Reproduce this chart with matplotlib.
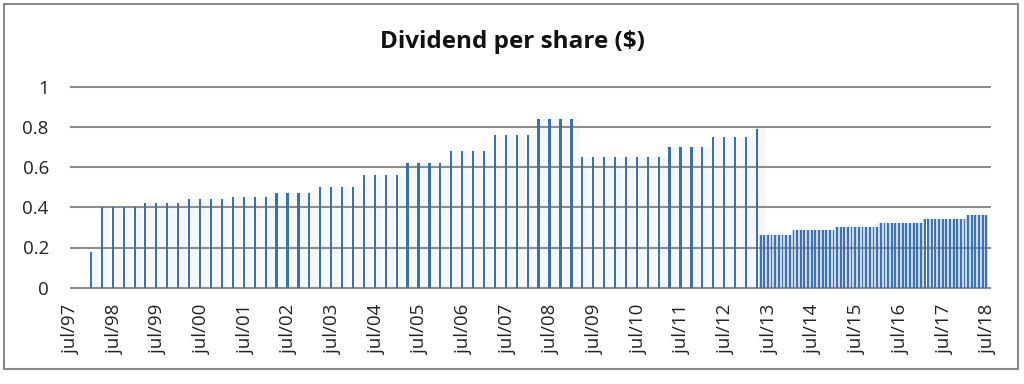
import matplotlib
matplotlib.use("Agg")
from matplotlib import pyplot as plt
import matplotlib.dates as mdates
from matplotlib.patches import Rectangle
import pandas as pd

plt.rcParams['font.family'] = ['Open Sans', 'DejaVu Sans']

# quarterly dividends, Dec 1997 - Mar 2013
q_start = '1997-12-15'
q_values = [0.18,
            0.40, 0.40, 0.40, 0.40,
            0.42, 0.42, 0.42, 0.42,
            0.44, 0.44, 0.44, 0.44,
            0.45, 0.45, 0.45, 0.45,
            0.47, 0.47, 0.47, 0.47,
            0.50, 0.50, 0.50, 0.50,
            0.56, 0.56, 0.56, 0.56,
            0.62, 0.62, 0.62, 0.62,
            0.68, 0.68, 0.68, 0.68,
            0.76, 0.76, 0.76, 0.76,
            0.84, 0.84, 0.84, 0.84,
            0.65, 0.65, 0.65, 0.65, 0.65, 0.65, 0.65, 0.65,
            0.70, 0.70, 0.70, 0.70,
            0.75, 0.75, 0.75, 0.75,
            0.79]

# monthly dividends, Apr 2013 - Jun 2018
m_start = '2013-04-15'
m_values = [0.26, 0.26, 0.26, 0.26, 0.26, 0.26, 0.26, 0.26, 0.26,
            0.285, 0.285, 0.285, 0.285, 0.285, 0.285, 0.285, 0.285, 0.285, 0.285, 0.285, 0.285,
            0.30, 0.30, 0.30, 0.30, 0.30, 0.30, 0.30, 0.30, 0.30, 0.30, 0.30, 0.30,
            0.32, 0.32, 0.32, 0.32, 0.32, 0.32, 0.32, 0.32, 0.32, 0.32, 0.32, 0.32,
            0.34, 0.34, 0.34, 0.34, 0.34, 0.34, 0.34, 0.34, 0.34, 0.34, 0.34, 0.34,
            0.36, 0.36, 0.36, 0.36, 0.36, 0.36]

yticks = [0, 0.2, 0.4, 0.6, 0.8, 1]

q_dates = pd.date_range(q_start, periods=len(q_values), freq=pd.DateOffset(months=3))
m_dates = pd.date_range(m_start, periods=len(m_values), freq=pd.DateOffset(months=1))

fig = plt.figure(figsize=(10.24, 3.84), dpi=100)
ax = fig.add_axes([71 / 1024, 1 - 287.7 / 384, (990 - 71) / 1024, 201 / 384])

grid_col = '#8c8c8c'
for y in yticks:
    ax.axhline(y, color=grid_col, lw=1.5, zorder=1, clip_on=False)

# soft gradient-like haze behind the bars
ax.bar(q_dates, q_values, width=70, color='#f4f7fb', zorder=0, align='edge')
ax.bar(m_dates, m_values, width=30, color='#c9d8ec', zorder=0)

ax.bar(q_dates, q_values, width=18, color='#3a6fb0', zorder=2)
ax.bar(m_dates, m_values, width=16, color='#3f72b3', zorder=2)

ax.set_ylim(0, 1)
ax.set_xlim(pd.Timestamp('1997-07-01'), pd.Timestamp('2018-07-16'))
ax.set_yticks(yticks)
ax.set_yticklabels(['0', '0.2', '0.4', '0.6', '0.8', '1'])

ax.xaxis.set_major_locator(mdates.MonthLocator(bymonth=7))
ax.xaxis.set_major_formatter(mdates.DateFormatter('jul/%y'))
plt.setp(ax.get_xticklabels(), rotation=90, ha='center', va='top')

ax.tick_params(axis='y', length=0, pad=16, labelsize=13.5, labelcolor='#222222')
ax.tick_params(axis='x', length=0, pad=12, labelsize=13.5, labelcolor='#222222')
for s in ax.spines.values():
    s.set_visible(False)

fig.text(0.5, 1 - 42 / 384, 'Dividend per share ($)', ha='center', va='center',
         fontsize=17.5, fontweight='bold', color='#111111')

fig.patches.append(Rectangle((4 / 1024, 1 - 369 / 384), 1014 / 1024, 365 / 384,
                             transform=fig.transFigure, fill=False,
                             edgecolor='#8a8a8a', lw=1.5))

fig.savefig('out.png', dpi=100)
